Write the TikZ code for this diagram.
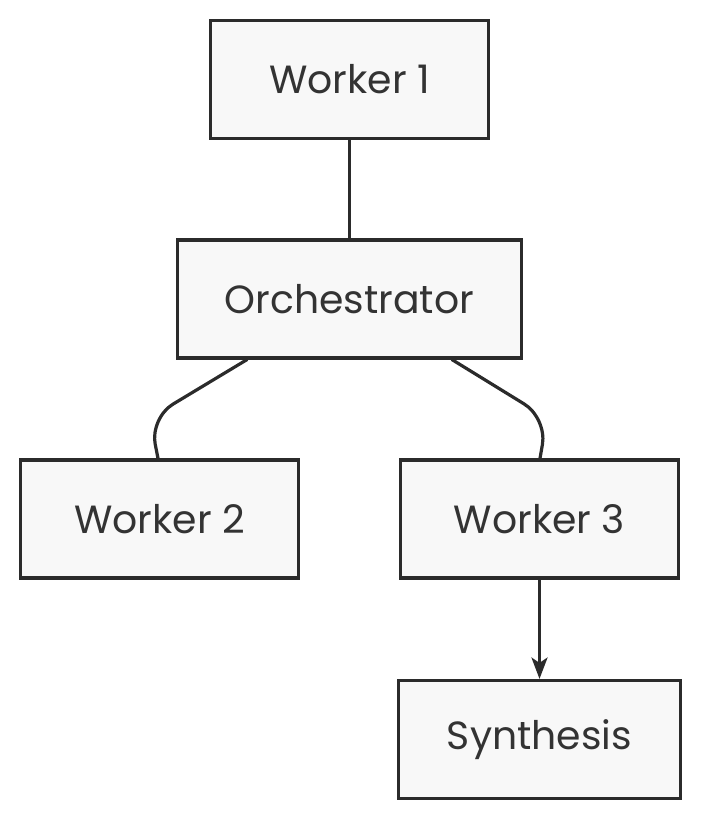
\documentclass[tikz,border=0pt]{standalone}
\usepackage{fontspec}
\setmainfont{Poppins}
\usetikzlibrary{arrows.meta,calc}
\definecolor{linegray}{HTML}{2B2B2B}
\definecolor{boxgray}{HTML}{F8F8F8}
\definecolor{textgray}{HTML}{333333}
\begin{document}
\begin{tikzpicture}[x=0.75pt, y=-0.75pt,
	box/.style={ draw=linegray, fill=boxgray, line width=2.4pt, minimum width=208pt, minimum height=88.5pt, text=textgray, font=\fontsize{29.5}{34}\selectfont },
	link/.style={ draw=linegray, line width=2.4pt, line cap=round }
]
\useasboundingbox (0,0) rectangle (701,820);

\node[box] at (349.5,79.5) (w1) {Worker 1};
\node[box, minimum width=258pt] at (349.5,299) (orch) {Orchestrator};
\node[box] at (159.5,519) (w2) {Worker 2};
\node[box] at (539.5,519) (w3) {Worker 3};
\node[box, minimum width=211pt] at (539.5,739.5) (synth) {Synthesis};

\coordinate (bendl) at (150,418);
\coordinate (bendr) at (547,418);

\draw[link] (w1) -- (orch);
\draw[link, rounded corners=20pt] ($(orch.south)+(-102.5,0)$) -- (bendl) -- ($(w2.north)+(-1.5,0)$);
\draw[link, rounded corners=20pt] ($(orch.south)+(102.5,0)$) -- (bendr) -- ($(w3.north)+(0.5,0)$);
\draw[link, -{Stealth[length=16pt, width=12pt, inset=4pt]}] (w3) -- (synth);

\end{tikzpicture}
\end{document}
